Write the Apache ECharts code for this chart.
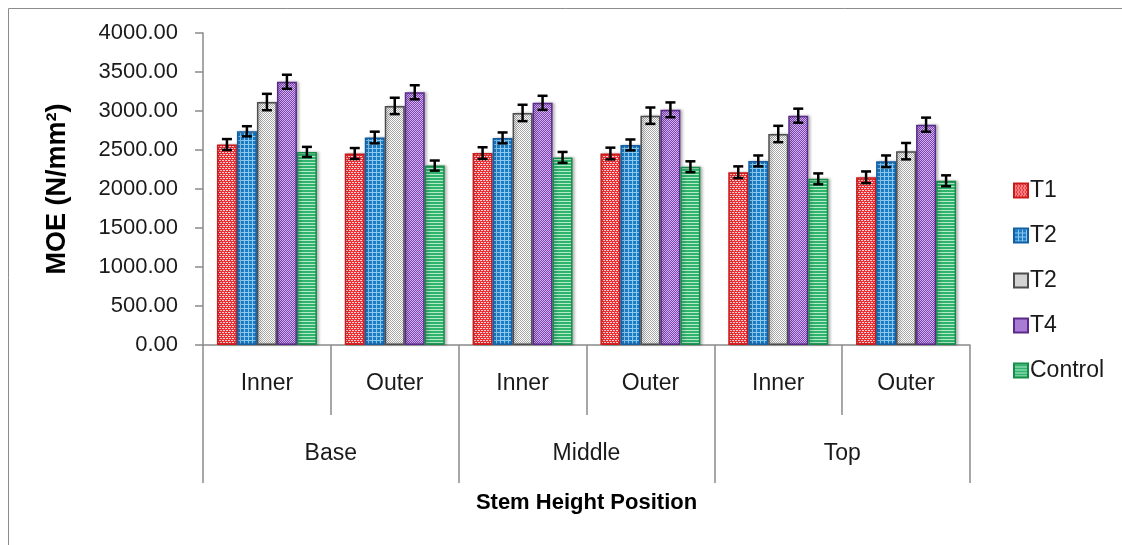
<!DOCTYPE html>
<html>
<head>
<meta charset="utf-8">
<script src="https://cdn.jsdelivr.net/npm/echarts@6.0.0/dist/echarts.min.js"></script>
<style>
  html, body { margin: 0; padding: 0; background: #fff; }
  #container { width: 1122px; height: 545px; }
</style>
</head>
<body>
<div id="container"></div>
<script>
// categories (two-level x axis)
var positions = ['Inner', 'Outer', 'Inner', 'Outer', 'Inner', 'Outer'];
var heights = ['Base', 'Middle', 'Top'];

// series names and legend labels (legend shows T2 twice, as in the original)
var seriesNames = ['T1', 'T2', 'T3', 'T4', 'Control'];
var legendLabels = ['T1', 'T2', 'T2', 'T4', 'Control'];

// MOE means (N/mm2)
var t1 = [2570, 2455, 2460, 2455, 2215, 2150];
var t2 = [2740, 2660, 2655, 2565, 2360, 2355];
var t3 = [3115, 3065, 2975, 2940, 2705, 2485];
var t4 = [3375, 3240, 3105, 3015, 2940, 2825];
var control = [2475, 2300, 2405, 2285, 2130, 2105];

// error bar half-lengths
var t1Err = [70, 70, 75, 75, 75, 75];
var t2Err = [65, 75, 70, 70, 70, 75];
var t3Err = [105, 105, 105, 105, 105, 105];
var t4Err = [90, 90, 90, 95, 90, 90];
var controlErr = [65, 65, 70, 70, 70, 70];

var yMin = 0, yMax = 4000, yStep = 500;

var values = [t1, t2, t3, t4, control];
var errors = [t1Err, t2Err, t3Err, t4Err, controlErr];

var FONT = "'Liberation Sans', Arial, sans-serif";
var TXT = '#1a1a1a';
var AXIS = '#8a8a8a';
var BAR_W = 20;

// small repeating textures like the office fill patterns
function makePattern(bg, fg, kind) {
    var c = document.createElement('canvas');
    var ctx;
    if (kind == 'brick') {
        c.width = 6; c.height = 4;
        ctx = c.getContext('2d');
        ctx.fillStyle = bg; ctx.fillRect(0, 0, 6, 4);
        ctx.fillStyle = fg;
        ctx.fillRect(0, 0, 2, 1); ctx.fillRect(3, 0, 2, 1);
        ctx.fillRect(1, 2, 2, 1); ctx.fillRect(4, 2, 2, 1);
    } else if (kind == 'grid') {
        c.width = 4; c.height = 4;
        ctx = c.getContext('2d');
        ctx.fillStyle = bg; ctx.fillRect(0, 0, 4, 4);
        ctx.fillStyle = fg;
        ctx.fillRect(0, 0, 4, 1); ctx.fillRect(0, 0, 1, 4);
    } else if (kind == 'checker') {
        c.width = 4; c.height = 4;
        ctx = c.getContext('2d');
        ctx.fillStyle = bg; ctx.fillRect(0, 0, 4, 4);
        ctx.fillStyle = fg;
        ctx.fillRect(0, 0, 1, 1); ctx.fillRect(2, 0, 1, 1);
        ctx.fillRect(1, 1, 1, 1); ctx.fillRect(3, 1, 1, 1);
        ctx.fillRect(0, 2, 1, 1); ctx.fillRect(2, 2, 1, 1);
        ctx.fillRect(1, 3, 1, 1); ctx.fillRect(3, 3, 1, 1);
    } else {
        c.width = 4; c.height = 3;
        ctx = c.getContext('2d');
        ctx.fillStyle = bg; ctx.fillRect(0, 0, 4, 3);
        ctx.fillStyle = fg;
        ctx.fillRect(0, 0, 4, 1);
    }
    return { image: c, repeat: 'repeat' };
}

var fills = [
    makePattern('#ec2f35', '#fbd2d2', 'brick'),
    makePattern('#1c7cc4', '#8cc8ef', 'grid'),
    makePattern('#ffffff', '#a8a8a8', 'checker'),
    makePattern('#8044b8', '#d0b4ec', 'checker'),
    makePattern('#2fb46c', '#b6e8cc', 'lines')
];
var borders = ['#cc1a1a', '#135fa4', '#4d4d4d', '#5b2a8c', '#178c4a'];

var dom = document.getElementById('container');
var myChart = echarts.init(dom);

var series = [];
for (var k = 0; k < 5; k++) {
    series.push({
        name: seriesNames[k],
        type: 'bar',
        xAxisIndex: 0,
        barWidth: BAR_W,
        barGap: '0%',
        data: values[k],
        itemStyle: {
            color: fills[k],
            borderColor: borders[k],
            borderWidth: 1.5,
            shadowColor: 'rgba(0,0,0,0.25)',
            shadowBlur: 3,
            shadowOffsetX: 2
        },
        emphasis: { disabled: true }
    });
}
// error bars drawn on top of each bar
for (var k = 0; k < 5; k++) {
    (function (idx) {
        var d = [];
        for (var i = 0; i < values[idx].length; i++) {
            d.push([i, values[idx][i], errors[idx][i]]);
        }
        series.push({
            name: 'err' + idx,
            type: 'custom',
            xAxisIndex: 0,
            silent: true,
            z: 10,
            data: d,
            renderItem: function (params, api) {
                var x = api.value(0), v = api.value(1), e = api.value(2);
                var hi = api.coord([x, v + e]);
                var lo = api.coord([x, v - e]);
                var cx = hi[0] + (idx - 2) * BAR_W;
                var st = { stroke: '#000', lineWidth: 2.5 };
                return {
                    type: 'group',
                    children: [
                        { type: 'line', shape: { x1: cx, y1: hi[1], x2: cx, y2: lo[1] }, style: st },
                        { type: 'line', shape: { x1: cx - 5, y1: hi[1], x2: cx + 5, y2: hi[1] }, style: st },
                        { type: 'line', shape: { x1: cx - 5, y1: lo[1], x2: cx + 5, y2: lo[1] }, style: st }
                    ]
                };
            }
        });
    })(k);
}

var option = {
    animation: false,
    grid: { left: 203, right: 152, top: 33, bottom: 200 },
    graphic: [{
        type: 'rect',
        shape: { x: 8.5, y: 8.5, width: 1130, height: 560 },
        style: { fill: 'none', stroke: '#8c8c8c', lineWidth: 1 },
        silent: true
    }],
    legend: {
        data: seriesNames,
        orient: 'vertical',
        left: 1008,
        top: 174,
        itemWidth: 14,
        itemHeight: 14,
        itemGap: 22,
        icon: 'rect',
        formatter: function (name) {
            return legendLabels[seriesNames.indexOf(name)];
        },
        textStyle: { fontFamily: FONT, fontSize: 23, color: TXT, lineHeight: 22, padding: [0, 0, 0, -3] }
    },
    xAxis: [
        {
            type: 'category',
            data: positions,
            position: 'bottom',
            axisLine: { lineStyle: { color: AXIS, width: 1.5 } },
            axisTick: { show: true, interval: 0, length: 70, lineStyle: { color: AXIS, width: 1.5 } },
            axisLabel: { interval: 0, margin: 27, fontFamily: FONT, fontSize: 23, color: TXT },
            name: 'Stem Height Position',
            nameLocation: 'middle',
            nameGap: 147,
            nameTextStyle: { fontFamily: FONT, fontSize: 22, fontWeight: 'bold', color: '#000' }
        },
        {
            type: 'category',
            data: heights,
            position: 'bottom',
            axisLine: { show: false },
            axisTick: { show: true, interval: 0, length: 138, lineStyle: { color: AXIS, width: 1.5 } },
            axisLabel: { interval: 0, margin: 97, fontFamily: FONT, fontSize: 23, color: TXT }
        }
    ],
    yAxis: {
        type: 'value',
        min: yMin,
        max: yMax,
        interval: yStep,
        splitLine: { show: false },
        axisLine: { show: true, lineStyle: { color: AXIS, width: 1.5 } },
        axisTick: { show: true, length: 8, lineStyle: { color: AXIS, width: 1.5 } },
        axisLabel: {
            margin: 25,
            fontFamily: FONT,
            fontSize: 22,
            color: TXT,
            formatter: function (v) { return v.toFixed(2); }
        },
        name: 'MOE (N/mm\u00b2)',
        nameLocation: 'middle',
        nameGap: 132,
        nameTextStyle: { fontFamily: FONT, fontSize: 27, fontWeight: 'bold', color: '#000' }
    },
    series: series
};

if (option && typeof option === "object") {
    myChart.setOption(option, true);
}
</script>
</body>
</html>
